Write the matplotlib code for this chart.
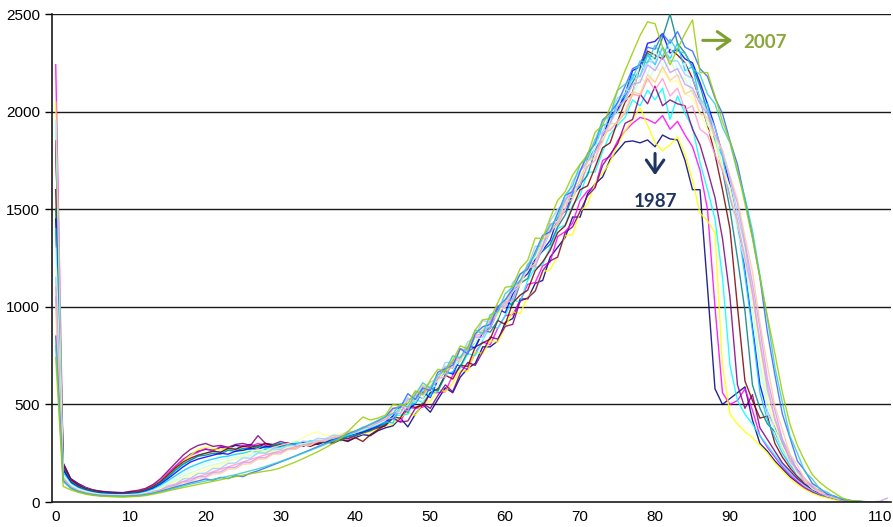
import matplotlib
matplotlib.use('Agg')
import matplotlib.pyplot as plt

# ages 0..111 (one category per year of age)
ages = list(range(112))
tick_ages = [0, 10, 20, 30, 40, 50, 60, 70, 80, 90, 100, 110]
y_ticks = [0, 500, 1000, 1500, 2000, 2500]

years = ['1987', '1988', '1989', '1990', '1991', '1992', '1993', '1994', '1995', '1996',
         '1997', '1998', '1999', '2000', '2001', '2002', '2003', '2005', '2007']

colors = ['#000080', '#FF00FF', '#FFFF00', '#00FFFF', '#800080', '#800000', '#008080', '#0000FF',
          '#00CCFF', '#CCFFFF', '#CCFFCC', '#FFFF99', '#99CCFF', '#FF99CC', '#CC99FF', '#FFCC99',
          '#3366FF', '#33CCCC', '#99CC00']

d1987 = [1850, 200, 120, 95, 75, 62, 55, 50, 48, 45, 50, 48,
         60, 75, 100, 140, 180, 215, 245, 260, 270, 265, 280, 275, 290, 285, 295, 280, 300, 290, 285, 300,
         290, 285, 300, 295, 310, 300, 320, 310, 330, 345, 340, 365, 380,
         390, 430, 385, 450, 500, 460, 525, 585, 560, 640, 685, 710, 795, 795, 825, 920, 940, 1040, 1040,
         1120, 1135, 1255, 1305, 1355, 1460, 1460, 1580, 1630, 1665, 1755, 1800,
         1845, 1850, 1840, 1855, 1820, 1880, 1860, 1855, 1750, 1600, 1600, 1100, 580, 500, 530, 560, 590,
         420, 300, 260, 210, 170, 130, 100, 70, 50, 35, 25, 15, 8, 4, 2, 1, 0, 0, 0]
d1988 = [2240, 190, 115, 90, 72, 60, 52, 50, 46, 48, 52, 55,
         65, 85, 110, 150, 185, 220, 240, 255, 275, 260, 285, 280, 270, 290, 285, 300, 290, 280, 295, 305,
         285, 300, 310, 300, 320, 310, 330, 325, 340, 350, 365, 380, 400,
         430, 410, 485, 480, 485, 560, 560, 565, 650, 695, 680, 765, 820, 805, 890, 955, 960, 1030, 1115,
         1125, 1210, 1230, 1360, 1385, 1430, 1545, 1595, 1615, 1750, 1770, 1850,
         1900, 1940, 1970, 1960, 1940, 1980, 1910, 1950, 1880, 1820, 1700, 1500, 1000, 560, 500, 520, 580,
         470, 340, 280, 230, 180, 140, 105, 75, 55, 38, 26, 16, 9, 5, 2, 1, 0, 0, 0]
d1989 = [2050, 180, 110, 85, 70, 58, 50, 45, 44, 46, 48, 50,
         60, 80, 105, 140, 175, 210, 240, 270, 280, 275, 265, 280, 270, 260, 275, 265, 250, 265, 270, 280,
         275, 290, 300, 315, 300, 320, 315, 330, 340, 350, 360, 375, 390,
         400, 435, 455, 445, 510, 515, 580, 565, 610, 675, 670, 770, 760, 825, 820, 895, 975, 965, 1050,
         1085, 1180, 1190, 1260, 1365, 1370, 1490, 1525, 1635, 1685, 1740, 1830,
         1900, 1960, 2020, 1930, 1840, 1800, 1830, 1870, 1780, 1650, 1480, 1440, 1380, 700, 450, 400, 360,
         330, 290, 250, 200, 160, 120, 90, 65, 45, 30, 20, 12, 7, 3, 1, 0, 0, 0, 0]
d1990 = [1950, 170, 105, 80, 65, 55, 48, 44, 42, 40, 44, 46,
         55, 70, 95, 125, 160, 190, 215, 235, 250, 260, 255, 270, 275, 265, 280, 285, 275, 290, 300, 295,
         310, 300, 315, 310, 320, 330, 325, 340, 345, 360, 370, 385, 400,
         440, 445, 450, 525, 510, 560, 565, 655, 665, 685, 760, 750, 830, 900, 890, 955, 1035, 1025, 1135,
         1200, 1215, 1305, 1400, 1420, 1520, 1570, 1690, 1690, 1795, 1885, 1930,
         1970, 2060, 2030, 2110, 2060, 2120, 1960, 2080, 1990, 1920, 1740, 1600, 1450, 1150, 700, 520, 450,
         400, 340, 290, 240, 190, 150, 115, 85, 60, 42, 28, 18, 10, 5, 2, 1, 0, 0, 0]
d1991 = [1850, 195, 118, 88, 70, 60, 55, 52, 50, 48, 55, 60,
         70, 90, 120, 160, 200, 240, 270, 290, 300, 285, 290, 280, 295, 300, 290, 340, 300, 295, 310, 300,
         290, 300, 295, 310, 305, 320, 330, 325, 340, 355, 370, 380, 390,
         430, 410, 415, 480, 505, 480, 545, 600, 565, 660, 715, 700, 770, 845, 835, 900, 910, 1030, 1045,
         1080, 1185, 1235, 1255, 1380, 1410, 1490, 1570, 1610, 1725, 1780, 1835,
         1940, 1960, 2090, 2040, 2130, 2030, 2060, 2040, 2030, 1910, 1830, 1700, 1560, 1350, 1050, 600, 480,
         550, 380, 320, 260, 200, 160, 120, 90, 65, 45, 30, 18, 10, 5, 2, 1, 0, 0, 0]
d1992 = [1600, 185, 112, 86, 68, 58, 52, 48, 46, 45, 50, 52,
         62, 80, 105, 140, 175, 205, 225, 240, 250, 260, 255, 275, 270, 285, 280, 290, 300, 285, 295, 290,
         300, 295, 285, 300, 310, 305, 320, 315, 330, 310, 345, 370, 395,
         435, 430, 495, 485, 495, 560, 580, 650, 630, 700, 695, 795, 815, 835, 930, 910, 1020, 1060, 1085,
         1185, 1230, 1290, 1380, 1415, 1510, 1600, 1620, 1715, 1815, 1840, 1950,
         2050, 2100, 2230, 2310, 2290, 2270, 2320, 2290, 2250, 2170, 2060, 1930, 1780, 1600, 1400, 1000, 620,
         520, 430, 440, 300, 230, 175, 130, 95, 68, 48, 32, 20, 11, 6, 3, 1, 0, 0, 0]
d1993 = [1500, 175, 105, 80, 65, 55, 48, 45, 43, 42, 45, 48,
         58, 75, 100, 130, 165, 195, 215, 235, 240, 250, 245, 265, 260, 275, 270, 285, 280, 290, 300, 285,
         295, 305, 300, 310, 305, 320, 315, 335, 340, 355, 365, 385, 400,
         430, 475, 460, 550, 530, 585, 570, 645, 715, 695, 770, 795, 880, 870, 930, 1025, 1010, 1120, 1145,
         1245, 1285, 1320, 1410, 1470, 1565, 1625, 1675, 1800, 1855, 1970, 1995,
         2080, 2150, 2220, 2300, 2270, 2380, 2500, 2350, 2300, 2230, 2130, 2000, 1860, 1700, 1500, 1250, 980,
         600, 480, 400, 360, 270, 200, 150, 105, 75, 52, 35, 22, 12, 6, 3, 1, 0, 0, 0]
d1994 = [1450, 165, 100, 75, 60, 50, 45, 42, 40, 40, 42, 45,
         55, 70, 92, 120, 150, 180, 205, 220, 230, 240, 250, 245, 260, 265, 275, 270, 285, 280, 290, 300,
         295, 305, 300, 315, 310, 325, 330, 340, 350, 360, 375, 390, 410,
         440, 490, 470, 505, 565, 535, 625, 670, 655, 735, 800, 790, 870, 890, 990, 970, 1065, 1135, 1170,
         1245, 1290, 1340, 1455, 1490, 1580, 1615, 1755, 1805, 1865, 1980, 2010,
         2090, 2210, 2230, 2350, 2360, 2400, 2300, 2320, 2270, 2250, 2150, 2040, 1920, 1780, 1620, 1430, 1200,
         900, 600, 460, 380, 300, 220, 165, 115, 80, 55, 37, 23, 13, 7, 3, 1, 0, 0, 0]
d1995 = [1400, 150, 95, 72, 58, 48, 42, 40, 38, 38, 40, 43,
         52, 65, 85, 110, 135, 160, 180, 195, 210, 220, 230, 235, 245, 250, 260, 255, 270, 275, 280, 290,
         300, 295, 305, 310, 315, 325, 330, 340, 355, 365, 380, 395, 410,
         405, 485, 495, 505, 580, 540, 640, 660, 665, 745, 780, 820, 880, 895, 970, 1040, 1040, 1125, 1205,
         1210, 1300, 1385, 1430, 1545, 1575, 1625, 1750, 1810, 1930, 1940, 2050,
         2080, 2190, 2180, 2290, 2240, 2330, 2270, 2350, 2210, 2230, 2060, 2040, 1850, 1770, 1560, 1420, 1160,
         880, 560, 420, 330, 250, 190, 140, 100, 70, 48, 32, 20, 11, 6, 3, 1, 0, 0, 0]
d1996 = [1300, 140, 90, 68, 55, 46, 40, 38, 36, 36, 38, 40,
         48, 60, 78, 100, 122, 145, 165, 180, 195, 205, 215, 225, 230, 240, 245, 255, 260, 270, 275, 285,
         290, 300, 305, 315, 320, 330, 335, 345, 355, 370, 385, 400, 420,
         470, 450, 500, 565, 545, 600, 590, 700, 695, 720, 805, 845, 835, 950, 960, 1020, 1080, 1110, 1215,
         1250, 1295, 1410, 1440, 1495, 1610, 1675, 1710, 1815, 1900, 1915, 2030,
         2120, 2090, 2250, 2190, 2310, 2230, 2340, 2210, 2250, 2100, 2110, 1930, 1890, 1700, 1610, 1380, 1230,
         950, 690, 460, 370, 265, 205, 145, 108, 70, 52, 32, 22, 11, 7, 3, 1, 0, 0, 0]
d1997 = [1950, 135, 85, 65, 52, 44, 38, 36, 35, 34, 36, 38,
         45, 56, 72, 92, 112, 132, 150, 165, 180, 190, 200, 212, 220, 230, 238, 248, 255, 262, 270, 280,
         288, 298, 305, 312, 320, 328, 338, 348, 360, 372, 388, 405, 425,
         480, 455, 490, 565, 530, 610, 615, 695, 705, 730, 790, 820, 895, 935, 950, 1045, 1075, 1170, 1185,
         1260, 1345, 1370, 1500, 1520, 1615, 1640, 1745, 1845, 1855, 1950, 1995,
         2060, 2080, 2170, 2150, 2230, 2200, 2270, 2180, 2170, 2090, 2060, 1940, 1870, 1720, 1610, 1430, 1250,
         1020, 710, 510, 370, 290, 200, 160, 105, 80, 50, 37, 20, 13, 5, 3, 1, 0, 0, 0]
d1998 = [1200, 130, 82, 62, 50, 42, 37, 35, 33, 33, 35, 37,
         44, 54, 68, 86, 104, 122, 138, 152, 165, 178, 190, 205, 220, 240, 255, 270, 262, 280, 290, 300,
         310, 330, 350, 360, 340, 345, 350, 360, 370, 380, 395, 410, 430,
         480, 470, 520, 515, 605, 605, 620, 690, 680, 760, 820, 820, 875, 955, 945, 1045, 1100, 1115, 1205,
         1290, 1300, 1400, 1440, 1560, 1560, 1655, 1745, 1790, 1865, 1910, 1950,
         2000, 2080, 2090, 2170, 2150, 2220, 2150, 2160, 2090, 2070, 1990, 1910, 1840, 1710, 1600, 1430, 1270,
         1030, 790, 530, 400, 280, 220, 145, 110, 68, 50, 30, 21, 10, 6, 3, 1, 0, 0, 0]
d1999 = [1150, 125, 80, 60, 48, 40, 36, 34, 33, 32, 34, 36,
         42, 55, 62, 84, 92, 118, 122, 146, 148, 172, 172, 198, 200, 226, 224, 252, 250, 272, 270, 292,
         290, 312, 308, 326, 324, 342, 340, 362, 360, 385, 388, 415, 425,
         430, 485, 535, 510, 570, 615, 630, 715, 715, 735, 820, 850, 930, 920, 1000, 1005, 1125, 1165, 1205,
         1310, 1310, 1440, 1500, 1535, 1645, 1700, 1770, 1860, 1895, 1990, 2070,
         2090, 2170, 2180, 2260, 2250, 2320, 2260, 2260, 2190, 2170, 2070, 2000, 1920, 1780, 1660, 1480, 1310,
         1070, 830, 570, 430, 300, 230, 155, 115, 74, 54, 32, 22, 11, 7, 3, 1, 0, 0, 0]
d2000 = [1100, 120, 78, 58, 47, 40, 35, 33, 32, 31, 33, 35,
         41, 50, 62, 76, 90, 105, 118, 130, 142, 155, 168, 180, 192, 205, 218, 230, 242, 252, 262, 272,
         282, 290, 300, 310, 318, 328, 338, 350, 362, 375, 390, 405, 425,
         475, 490, 465, 560, 550, 590, 635, 640, 725, 740, 765, 855, 860, 890, 980, 1025, 1030, 1125, 1200,
         1205, 1310, 1395, 1420, 1500, 1605, 1625, 1720, 1750, 1890, 1905, 1950,
         1990, 2090, 2080, 2170, 2110, 2170, 2080, 2120, 2010, 2030, 1910, 1880, 1780, 1700, 1560, 1440, 1250,
         1070, 810, 600, 420, 320, 210, 160, 100, 78, 46, 35, 18, 12, 5, 3, 1, 0, 0, 0]
d2001 = [1050, 118, 76, 57, 46, 39, 35, 33, 31, 31, 33, 34,
         40, 50, 58, 76, 84, 104, 108, 130, 130, 152, 154, 176, 178, 202, 204, 226, 228, 250, 252, 272,
         272, 292, 292, 312, 312, 332, 332, 354, 356, 380, 386, 412, 422,
         455, 453, 525, 530, 595, 580, 630, 693, 685, 785, 778, 845, 845, 927, 1005, 995, 1085, 1125, 1220,
         1230, 1310, 1425, 1430, 1550, 1585, 1695, 1745, 1790, 1880, 1940, 2025,
         2060, 2140, 2150, 2240, 2210, 2280, 2200, 2220, 2140, 2120, 2040, 1990, 1880, 1800, 1660, 1530, 1330,
         1120, 890, 630, 470, 320, 245, 160, 120, 76, 57, 34, 24, 11, 7, 3, 2, 1, 4, 20]
d2002 = [1000, 115, 74, 56, 45, 38, 34, 32, 31, 30, 32, 34,
         39, 49, 56, 73, 79, 99, 102, 122, 124, 144, 146, 168, 170, 194, 196, 220, 220, 245, 245, 268,
         270, 290, 292, 312, 314, 334, 336, 358, 360, 384, 388, 416, 426,
         470, 500, 483, 543, 598, 580, 645, 662, 750, 720, 797, 860, 880, 940, 972, 1000, 1097, 1118, 1196,
         1221, 1345, 1381, 1429, 1532, 1550, 1658, 1746, 1764, 1845, 1939, 1939,
         2000, 2100, 2090, 2190, 2150, 2230, 2160, 2190, 2090, 2110, 1990, 1970, 1870, 1800, 1670, 1550, 1360,
         1180, 920, 700, 490, 370, 245, 190, 115, 90, 50, 42, 20, 15, 5, 4, 1, 1, 0, 0]
d2003 = [850, 110, 72, 54, 44, 37, 33, 31, 30, 29, 31, 33,
         38, 45, 55, 66, 77, 88, 98, 108, 118, 112, 126, 120, 135, 130, 148, 160, 175, 190, 205, 220,
         236, 252, 268, 284, 300, 316, 332, 348, 364, 380, 398, 416, 436,
         480, 485, 555, 525, 585, 570, 665, 683, 701, 786, 758, 862, 898, 910, 1000, 1036, 1090, 1168, 1193,
         1280, 1366, 1384, 1479, 1571, 1590, 1694, 1785, 1836, 1957, 1993, 2045,
         2130, 2220, 2240, 2330, 2320, 2400, 2350, 2410, 2330, 2310, 2220, 2180, 2070, 1990, 1850, 1730, 1550,
         1360, 1150, 870, 650, 450, 330, 210, 160, 95, 70, 40, 30, 13, 9, 3, 2, 1, 0, 0]
d2005 = [800, 105, 70, 52, 43, 36, 32, 30, 29, 28, 30, 31,
         36, 43, 52, 62, 72, 82, 92, 100, 108, 116, 124, 132, 140, 150, 160, 170, 182, 195, 208, 222,
         236, 250, 265, 280, 296, 312, 328, 345, 362, 380, 398, 418, 438,
         452, 503, 486, 551, 611, 583, 652, 675, 748, 740, 792, 881, 862, 960, 975, 1067, 1101, 1134, 1214,
         1266, 1357, 1415, 1455, 1572, 1621, 1730, 1761, 1852, 1951, 1980, 2110,
         2140, 2170, 2260, 2250, 2340, 2280, 2370, 2310, 2300, 2220, 2190, 2090, 2040, 1920, 1840, 1690, 1560,
         1390, 1160, 940, 690, 510, 340, 250, 155, 118, 65, 50, 24, 19, 6, 5, 1, 1, 0, 0]
d2007 = [740, 80, 62, 50, 40, 34, 30, 28, 26, 25, 27, 29,
         33, 40, 48, 57, 66, 74, 82, 90, 98, 106, 114, 122, 130, 138, 145, 152, 158, 164, 175, 190,
         205, 222, 240, 258, 278, 300, 325, 360, 400, 435, 420, 430, 445,
         500, 495, 505, 570, 550, 625, 680, 670, 725, 800, 785, 881, 934, 939, 1021, 1100, 1106, 1196, 1238,
         1352, 1350, 1455, 1545, 1590, 1675, 1730, 1780, 1895, 1930, 2020, 2110,
         2210, 2300, 2390, 2460, 2450, 2330, 2240, 2320, 2400, 2470, 2200, 2200, 2080, 1950, 1850, 1700, 1530,
         1350, 1150, 950, 760, 560, 400, 290, 210, 140, 100, 70, 45, 20, 8, 3, 1, 0, 0, 0]

series = [d1987, d1988, d1989, d1990, d1991, d1992, d1993, d1994, d1995, d1996,
          d1997, d1998, d1999, d2000, d2001, d2002, d2003, d2005, d2007]

plt.rcParams['font.family'] = ['Liberation Sans', 'DejaVu Sans']

fig = plt.figure(figsize=(8.93, 5.27), dpi=100)
ax = fig.add_axes([0.0582, 0.0474, 0.9396, 0.926])

for y in y_ticks[1:]:
    ax.axhline(y, color='#1a1a1a', lw=1.0, zorder=1)

for i in range(len(series)):
    ax.plot(ages, series[i], color=colors[i], lw=1.0, alpha=0.85, zorder=2, label=years[i])

ax.set_xlim(-0.5, 111.5)
ax.set_ylim(0, 2500)
ax.set_xticks(tick_ages)
ax.set_yticks(y_ticks)
ax.tick_params(axis='x', length=0, pad=6, labelsize=11)
ax.tick_params(axis='y', length=5, width=1, direction='out', labelsize=11)
for s in ['top', 'right']:
    ax.spines[s].set_visible(False)
for s in ['left', 'bottom']:
    ax.spines[s].set_color('#1a1a1a')
    ax.spines[s].set_linewidth(1.2)

# labels for first and last year
ax.annotate('', xy=(90.7, 2365), xytext=(86.0, 2365),
            arrowprops=dict(arrowstyle='->,head_length=0.5,head_width=0.35', color='#7F9F32',
                            lw=2.2, mutation_scale=18))
ax.text(91.8, 2352, '2007', color='#8AA63A', fontsize=13.5, fontweight='bold',
        family=['Lato', 'DejaVu Sans'], ha='left', va='center')
ax.annotate('', xy=(80.0, 1660), xytext=(80.0, 1800),
            arrowprops=dict(arrowstyle='->,head_length=0.5,head_width=0.35', color='#1F3560',
                            lw=2.2, mutation_scale=18))
ax.text(80.1, 1538, '1987', color='#1F3560', fontsize=13.5, fontweight='bold',
        family=['Lato', 'DejaVu Sans'], ha='center', va='center')

plt.savefig('out.png', dpi=100)
